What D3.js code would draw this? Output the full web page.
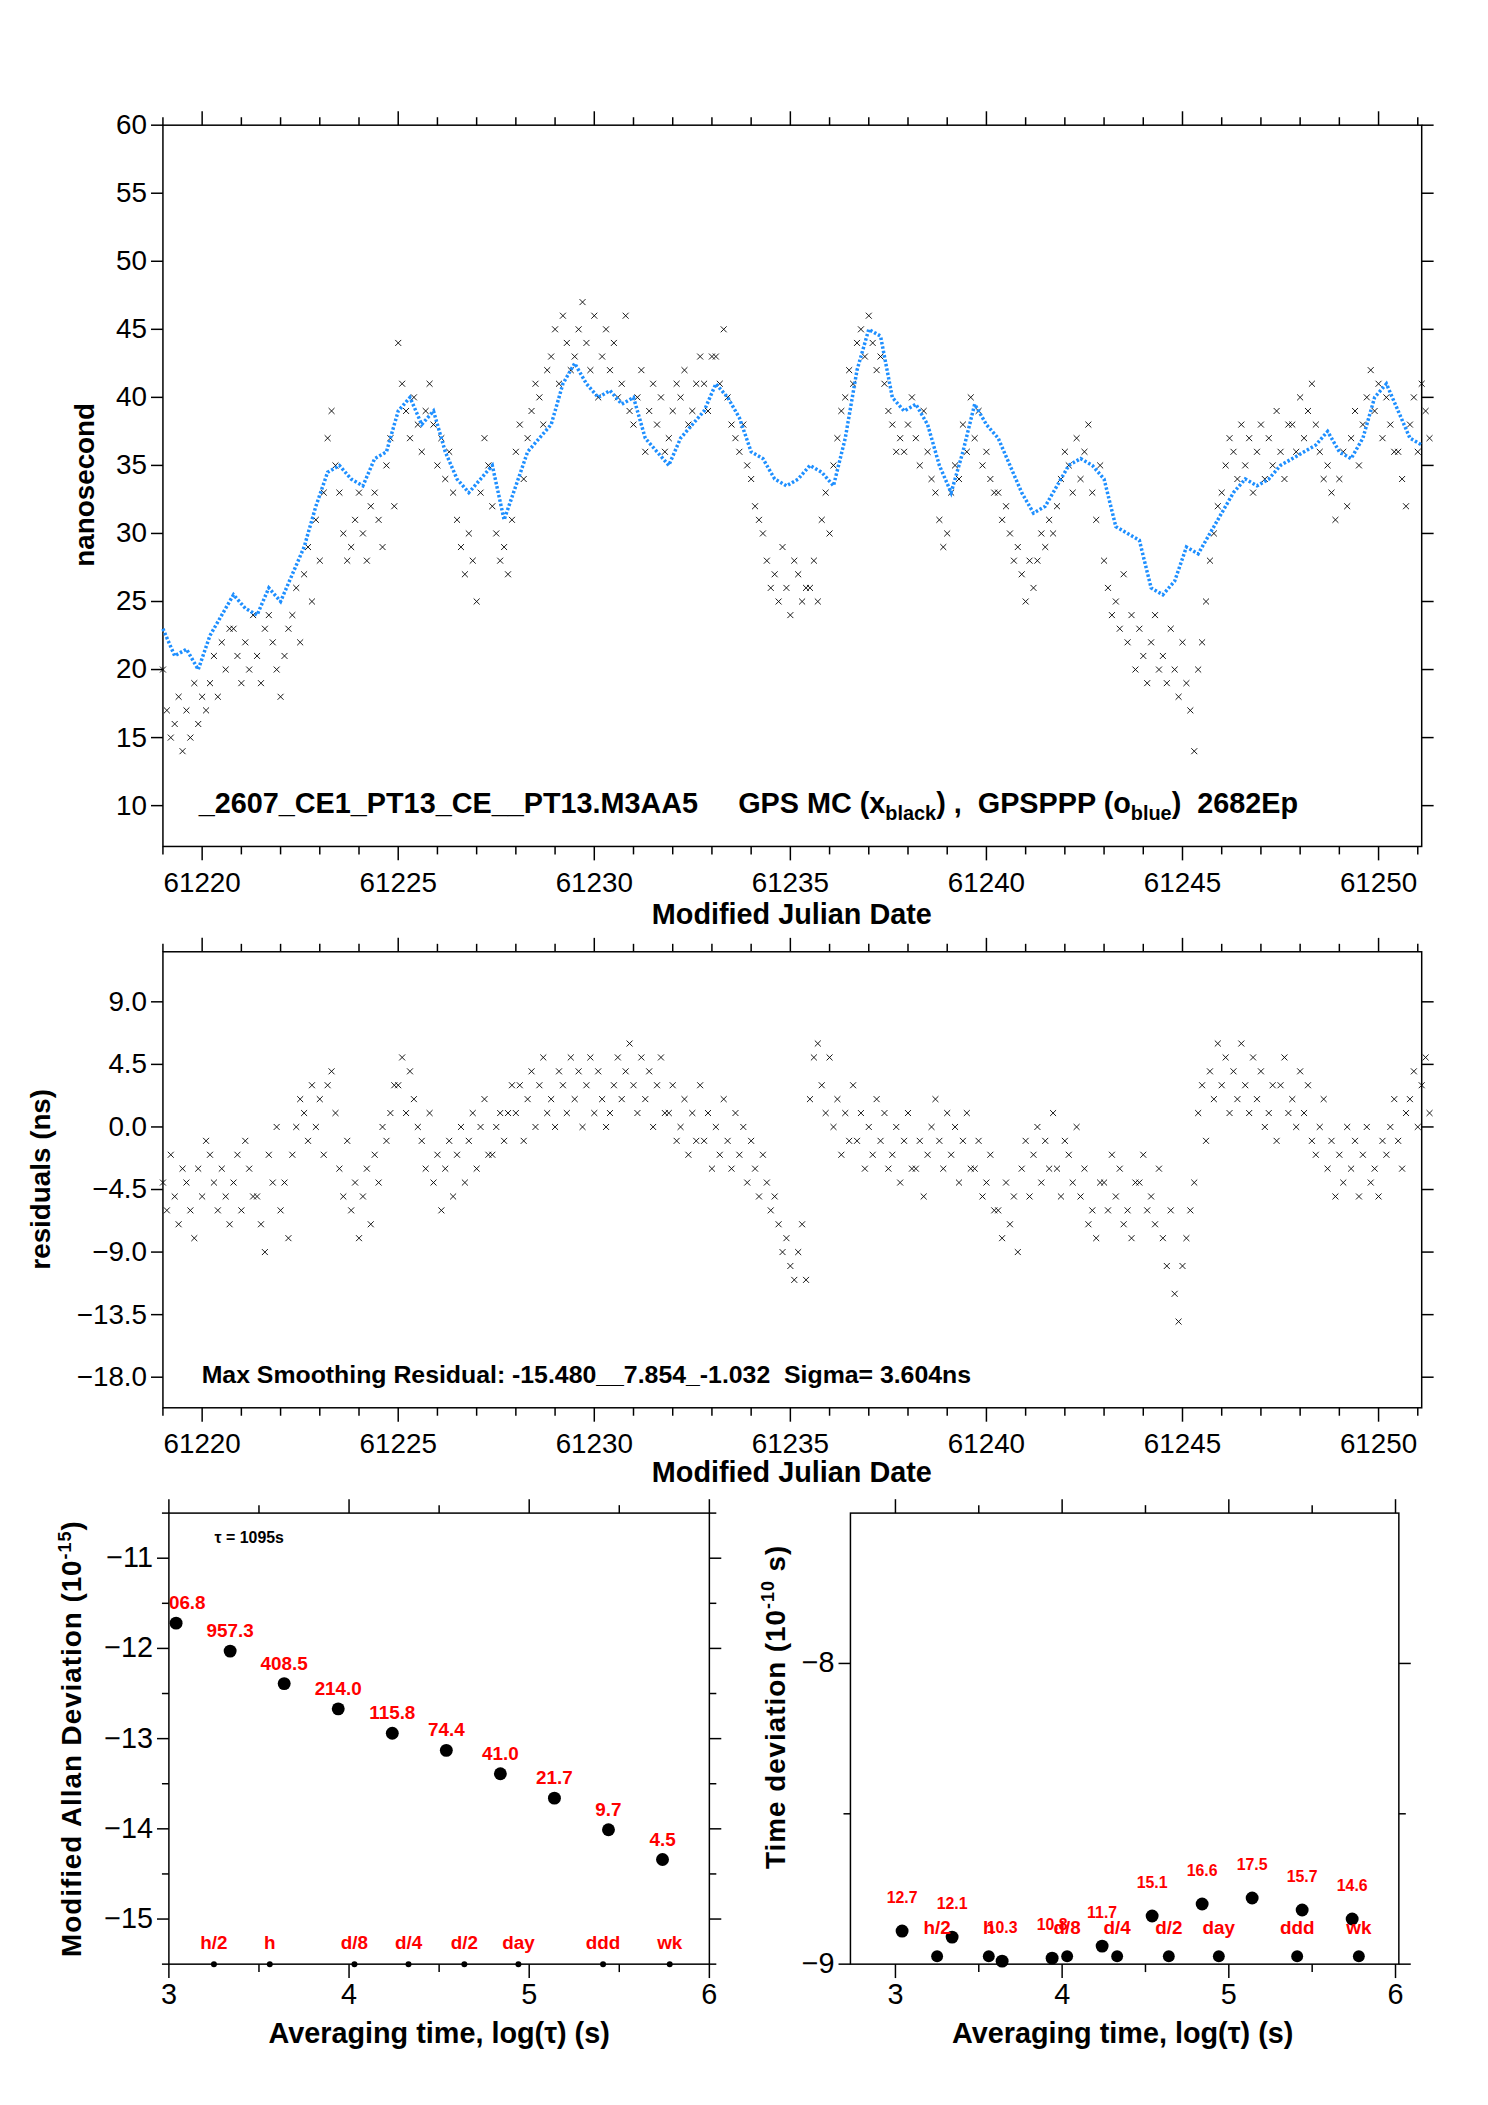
<!DOCTYPE html>
<html><head><meta charset="utf-8">
<script src="https://cdn.jsdelivr.net/npm/d3@7"></script>
<style>body{margin:0;background:#fff}</style>
</head><body>
<script>
// smoothed GPSPPP (blue), one value per 0.3 day from day0
var day0 = 61219.0, step = 0.3;
var blueVals = [23,21,21.5,20,22.5,24,25.5,24.5,24,26,
  25,27,29,32,34.5,35,34,33.5,35.5,36,
  39,40,38,39,36,34,33,34,35,31,
  33.5,36,37,38,41,42.5,41,40,40.5,39.5,
  40,37,36,35,37,38,39,41,40,38.5,
  36,35.5,34,33.5,34,35,34.5,33.5,37,42,
  45,44.5,40,39,39.5,38,35,33,36,39.5,
  38,37,35,33,31.5,32,33.5,35,35.5,35,
  34,30.5,30,29.5,26,25.5,26.5,29,28.5,30,
  31.5,33,34,33.5,34,35,35.5,36,36.5,37.5,
  36,35.5,37,40,41,39,37,36.5];
// GPS MC (black), three values per step (at +0, +0.1, +0.2 day)
var blackVals = [[20,17,15],[16,18,14],[17,15,19],[16,18,17],[19,21,18],[22,20,23],[23,21,19],[22,20,24],[21,19,23],[24,22,20],
  [18,21,23],[24,26,22],[27,29,25],[31,28,33],[37,39,35],[33,30,28],[29,31,33],[30,28,32],[33,31,29],[35,37,32],
  [44,41,39],[37,40,38],[36,39,41],[38,35,37],[34,36,33],[31,29,27],[30,28,25],[33,37,35],[32,30,28],[29,27,31],
  [36,38,34],[37,39,41],[40,38,42],[43,45,41],[46,44,42],[43,45,47],[44,42,46],[40,43,45],[42,44,40],[41,46,39],
  [38,40,42],[36,39,41],[38,40,36],[37,39,41],[40,42,38],[39,41,43],[41,39,43],[43,41,45],[40,38,37],[36,38,35],
  [34,32,31],[30,28,26],[27,25,29],[26,24,28],[27,25,26],[26,28,25],[31,33,30],[35,37,39],[40,42,41],[44,45,43],
  [46,44,42],[43,41,39],[38,36,37],[36,38,40],[37,35,39],[36,34,33],[31,29,30],[33,35,34],[38,36,40],[37,39,35],
  [36,34,33],[33,31,32],[30,28,29],[27,25,28],[26,28,30],[29,31,30],[32,34,36],[35,33,37],[34,36,38],[33,31,35],
  [28,26,24],[25,23,27],[22,24,20],[23,21,19],[22,24,20],[21,19,23],[20,18,22],[19,17,14],[20,22,25],[28,30,32],
  [33,35,37],[36,34,38],[35,37,33],[36,38,34],[37,35,39],[36,34,38],[38,36,40],[37,39,41],[38,36,34],[35,33,31],
  [34,36,32],[37,39,35],[38,40,42],[39,41,37],[40,38,36],[36,34,32],[38,40,36],[41,39,37]];
var residVals = [[-4,-6,-2],[-5,-7,-3],[-4,-6,-8],[-3,-5,-1],[-2,-4,-6],[-3,-5,-7],[-4,-2,-6],[-1,-3,-5],[-5,-7,-9],[-2,-4,0],
  [-6,-4,-8],[-2,0,2],[1,-1,3],[0,2,-2],[3,4,1],[-3,-5,-1],[-6,-4,-8],[-5,-3,-7],[-2,-4,0],[-1,1,3],
  [3,5,1],[4,2,0],[-1,-3,1],[-4,-2,-6],[-3,-1,-5],[-2,0,-4],[-1,1,-3],[0,2,-2],[-2,0,1],[-1,1,3],
  [1,3,-1],[2,4,0],[3,5,1],[2,0,4],[3,1,5],[2,4,0],[3,5,1],[4,2,0],[1,3,5],[2,4,6],
  [3,1,5],[2,4,0],[3,5,1],[1,3,-1],[0,2,-2],[1,-1,3],[-1,1,-3],[0,-2,2],[-1,-3,1],[-2,0,-4],
  [-1,-3,-5],[-2,-4,-6],[-5,-7,-9],[-8,-10,-11],[-9,-7,-11],[2,5,6],[3,1,5],[0,2,-2],[1,-1,3],[-1,1,-3],
  [0,-2,2],[-1,1,-3],[-2,0,-4],[-1,1,-3],[-3,-1,-5],[-2,0,2],[-1,-3,1],[-2,0,-4],[-1,1,-3],[-3,-1,-5],
  [-4,-2,-6],[-6,-8,-4],[-7,-5,-9],[-3,-1,-5],[-2,0,-4],[-1,-3,1],[-3,-5,-1],[-2,-4,0],[-5,-3,-7],[-6,-8,-4],
  [-4,-6,-2],[-5,-3,-7],[-6,-8,-4],[-4,-2,-6],[-5,-7,-3],[-8,-10,-6],[-12,-14,-10],[-8,-6,-4],[1,3,-1],[4,2,6],
  [3,5,1],[4,2,6],[3,1,5],[2,4,0],[1,3,-1],[3,5,1],[2,0,4],[1,3,-1],[-2,0,2],[-3,-1,-5],
  [-2,-4,0],[-3,-1,-5],[-2,0,-4],[-3,-5,-1],[-2,0,2],[-1,-3,1],[2,4,0],[3,5,1]];

var logTau = [3.04,3.34,3.64,3.94,4.24,4.54,4.84,5.14,5.44,5.74];
var madev = [-11.72,-12.03,-12.39,-12.67,-12.94,-13.13,-13.39,-13.66,-14.01,-14.34];
var madevLabels = ["06.8","957.3","408.5","214.0","115.8","74.4","41.0","21.7","9.7","4.5"];
var tdev = [-8.89,-8.91,-8.99,-8.98,-8.94,-8.84,-8.80,-8.78,-8.82,-8.85];
var tdevLabels = ["12.7","12.1","10.3","10.8","11.7","15.1","16.6","17.5","15.7","14.6"];
var markTau = [3.25,3.56,4.03,4.33,4.64,4.94,5.41,5.78];
var markLabels = ["h/2","h","d/8","d/4","d/2","day","ddd","wk"];

var FN = "'Liberation Sans Narrow','Liberation Sans',Arial,sans-serif";
var FB = "'Liberation Sans',Arial,sans-serif";
var root = d3.select("body").append("svg").attr("width",1488).attr("height",2105)
  .style("font-family",FN);
var svg = root.append("g").attr("transform","scale(0.9935)");

function frame(x, y, opt){
  var x0=x.range()[0], x1=x.range()[1], y0=y.range()[1], y1=y.range()[0];
  var g = svg.append("g");
  g.append("rect").attr("x",x0).attr("y",y0).attr("width",x1-x0).attr("height",y1-y0)
    .attr("fill","none").attr("stroke","#000").attr("stroke-width",1.5);
  // x minor + major ticks top and bottom (outward)
  opt.xMinor.forEach(function(v){
    var L = opt.xMajor.indexOf(v)>=0 ? 14 : 8;
    g.append("line").attr("x1",x(v)).attr("x2",x(v)).attr("y1",y0).attr("y2",y0-L).attr("stroke","#000").attr("stroke-width",1.5);
    g.append("line").attr("x1",x(v)).attr("x2",x(v)).attr("y1",y1).attr("y2",y1+L).attr("stroke","#000").attr("stroke-width",1.5);
  });
  opt.xMajor.forEach(function(v){
    g.append("text").attr("x",x(v)).attr("y",y1+opt.xLabDy).attr("text-anchor","middle")
      .attr("font-size",opt.fs).text(opt.xFmt ? opt.xFmt(v) : v);
  });
  opt.yMinor.forEach(function(v){
    var L = opt.yMajor.indexOf(v)>=0 ? 12 : 7;
    g.append("line").attr("x1",x1).attr("x2",x1+L).attr("y1",y(v)).attr("y2",y(v)).attr("stroke","#000").attr("stroke-width",1.5);
    g.append("line").attr("x1",x0).attr("x2",x0-L).attr("y1",y(v)).attr("y2",y(v)).attr("stroke","#000").attr("stroke-width",1.5);
  });
  opt.yMajor.forEach(function(v){
    g.append("text").attr("x",x0-16).attr("y",y(v)+9).attr("text-anchor","end")
      .attr("font-size",opt.fs).text(opt.yFmt(v));
  });
  return g;
}
function minus(s){ return String(s).replace("-","\u2212"); }
function xmark(g, x, y, pts){
  g.selectAll(null).data(pts).enter().append("path")
    .attr("d", function(d){ var X=x(d[0]),Y=y(d[1]); return "M"+(X-3)+","+(Y-3)+"L"+(X+3)+","+(Y+3)+"M"+(X-3)+","+(Y+3)+"L"+(X+3)+","+(Y-3); })
    .attr("stroke","#000").attr("stroke-width",0.9);
}
var days = d3.range(61219,61252), majorDays = [61220,61225,61230,61235,61240,61245,61250];

// ---------- panel 1 ----------
var x1 = d3.scaleLinear().domain([61219,61251.1]).range([164,1431]);
var y1 = d3.scaleLinear().domain([7,60]).range([852,126]);
var g1 = frame(x1,y1,{xMinor:days,xMajor:majorDays,xLabDy:46,fs:28,
  yMinor:d3.range(10,61,5),yMajor:d3.range(10,61,5),yFmt:function(v){return v;}});
var bpts=[];
blackVals.forEach(function(r,i){ r.forEach(function(v,j){ bpts.push([day0+i*step+j*0.1,v]); }); });
xmark(g1,x1,y1,bpts);
g1.append("path").datum(blueVals.map(function(v,i){return [day0+i*step,v];}))
  .attr("d",d3.line().x(function(d){return x1(d[0]);}).y(function(d){return y1(d[1]);}))
  .attr("fill","none").attr("stroke","#1e8fff").attr("stroke-width",3.5).attr("stroke-dasharray","2.5,2");
var t1 = svg.append("text").attr("x",200).attr("y",818).attr("font-size",29).attr("font-weight","bold").attr("xml:space","preserve");
t1.append("tspan").text("_2607_CE1_PT13_CE__PT13.M3AA5     GPS MC (x");
t1.append("tspan").attr("font-size",20).attr("dy",7).text("black");
t1.append("tspan").attr("dy",-7).text(") ,  GPSPPP (o");
t1.append("tspan").attr("font-size",20).attr("dy",7).text("blue");
t1.append("tspan").attr("dy",-7).text(")  2682Ep");
svg.append("text").attr("x",797).attr("y",930).attr("text-anchor","middle").attr("font-size",29).attr("font-weight","bold").text("Modified Julian Date");
svg.append("text").attr("transform","translate(95,488) rotate(-90)").attr("text-anchor","middle").attr("font-size",28).attr("font-weight","bold").style("font-family",FB).text("nanosecond");

// ---------- panel 2 ----------
var x2 = d3.scaleLinear().domain([61219,61251.1]).range([164,1431]);
var y2 = d3.scaleLinear().domain([-20.2,12.6]).range([1417,958]);
var yt2 = [9,4.5,0,-4.5,-9,-13.5,-18];
var g2 = frame(x2,y2,{xMinor:days,xMajor:majorDays,xLabDy:46,fs:28,
  yMinor:yt2,yMajor:yt2,yFmt:function(v){return minus(v.toFixed(1));}});
var rpts=[];
residVals.forEach(function(r,i){ r.forEach(function(v,j){ rpts.push([day0+i*step+j*0.1,v]); }); });
xmark(g2,x2,y2,rpts);
svg.append("text").attr("x",203).attr("y",1392).attr("font-size",25).attr("font-weight","bold").attr("xml:space","preserve").text("Max Smoothing Residual: -15.480__7.854_-1.032  Sigma= 3.604ns");
svg.append("text").attr("x",797).attr("y",1492).attr("text-anchor","middle").attr("font-size",29).attr("font-weight","bold").text("Modified Julian Date");
svg.append("text").attr("transform","translate(50,1187) rotate(-90)").attr("text-anchor","middle").attr("font-size",28).attr("font-weight","bold").style("font-family",FB).text("residuals (ns)");

// ---------- panel 3 (MDEV) ----------
var x3 = d3.scaleLinear().domain([3,6]).range([170,714]);
var y3 = d3.scaleLinear().domain([-15.5,-10.5]).range([1977,1523]);
var g3 = frame(x3,y3,{xMinor:[3,3.5,4,4.5,5,5.5,6],xMajor:[3,4,5,6],xLabDy:40,fs:29,
  yMinor:d3.range(-15.5,-10.4,0.5),yMajor:[-15,-14,-13,-12,-11],yFmt:function(v){return minus(v);}});
g3.selectAll(null).data(logTau).enter().append("circle").attr("cx",function(d){return x3(d);})
  .attr("cy",function(d,i){return y3(madev[i]);}).attr("r",6.5).attr("fill","#000");
g3.selectAll(null).data(logTau).enter().append("text").attr("x",function(d,i){return i==0?170:x3(d);})
  .attr("text-anchor",function(d,i){return i==0?"start":"middle";})
  .attr("y",function(d,i){return y3(madev[i])-14;}).attr("fill","red").attr("font-size",19).attr("font-weight","bold")
  .text(function(d,i){return madevLabels[i];});
g3.selectAll(null).data(markTau).enter().append("circle").attr("cx",function(d){return x3(d);}).attr("cy",1977).attr("r",3).attr("fill","#000");
g3.selectAll(null).data(markTau).enter().append("text").attr("x",function(d){return x3(d);}).attr("y",1962)
  .attr("text-anchor","middle").attr("fill","red").attr("font-size",19).attr("font-weight","bold").text(function(d,i){return markLabels[i];});
svg.append("text").attr("x",216).attr("y",1553).attr("font-size",16).attr("font-weight","bold").text("\u03c4 = 1095s");
svg.append("text").attr("x",442).attr("y",2056).attr("text-anchor","middle").attr("font-size",29).attr("font-weight","bold").text("Averaging time, log(\u03c4) (s)");
var l3 = svg.append("text").attr("transform","translate(82,1750) rotate(-90)").attr("text-anchor","middle").attr("font-size",28).attr("font-weight","bold").style("font-family",FB).attr("letter-spacing",1);
l3.append("tspan").text("Modified Allan Deviation (10");
l3.append("tspan").attr("font-size",18).attr("dy",-11).text("-15");
l3.append("tspan").attr("dy",11).text(")");

// ---------- panel 4 (TDEV) ----------
var x4 = d3.scaleLinear().domain([2.73,6.02]).range([856,1408]);
var y4 = d3.scaleLinear().domain([-9,-7.5]).range([1977,1523]);
var g4 = frame(x4,y4,{xMinor:[3,3.5,4,4.5,5,5.5,6],xMajor:[3,4,5,6],xLabDy:40,fs:29,
  yMinor:[-9,-8.5,-8],yMajor:[-9,-8],yFmt:function(v){return minus(v);}});
g4.selectAll(null).data(logTau).enter().append("circle").attr("cx",function(d){return x4(d);})
  .attr("cy",function(d,i){return y4(tdev[i]);}).attr("r",6.5).attr("fill","#000");
g4.selectAll(null).data(logTau).enter().append("text").attr("x",function(d){return x4(d);})
  .attr("y",function(d,i){return y4(tdev[i])-28;}).attr("text-anchor","middle").attr("fill","red").attr("font-size",16).attr("font-weight","bold")
  .text(function(d,i){return tdevLabels[i];});
g4.selectAll(null).data(markTau).enter().append("circle").attr("cx",function(d){return x4(d);}).attr("cy",1969).attr("r",6).attr("fill","#000");
g4.selectAll(null).data(markTau).enter().append("text").attr("x",function(d){return x4(d);}).attr("y",1947)
  .attr("text-anchor","middle").attr("fill","red").attr("font-size",19).attr("font-weight","bold").text(function(d,i){return markLabels[i];});
svg.append("text").attr("x",1130).attr("y",2056).attr("text-anchor","middle").attr("font-size",29).attr("font-weight","bold").text("Averaging time, log(\u03c4) (s)");
var l4 = svg.append("text").attr("transform","translate(790,1718) rotate(-90)").attr("text-anchor","middle").attr("font-size",28).attr("font-weight","bold").style("font-family",FB).attr("letter-spacing",1);
l4.append("tspan").text("Time deviation (10");
l4.append("tspan").attr("font-size",18).attr("dy",-11).text("-10");
l4.append("tspan").attr("dy",11).text(" s)");
</script>
</body></html>
